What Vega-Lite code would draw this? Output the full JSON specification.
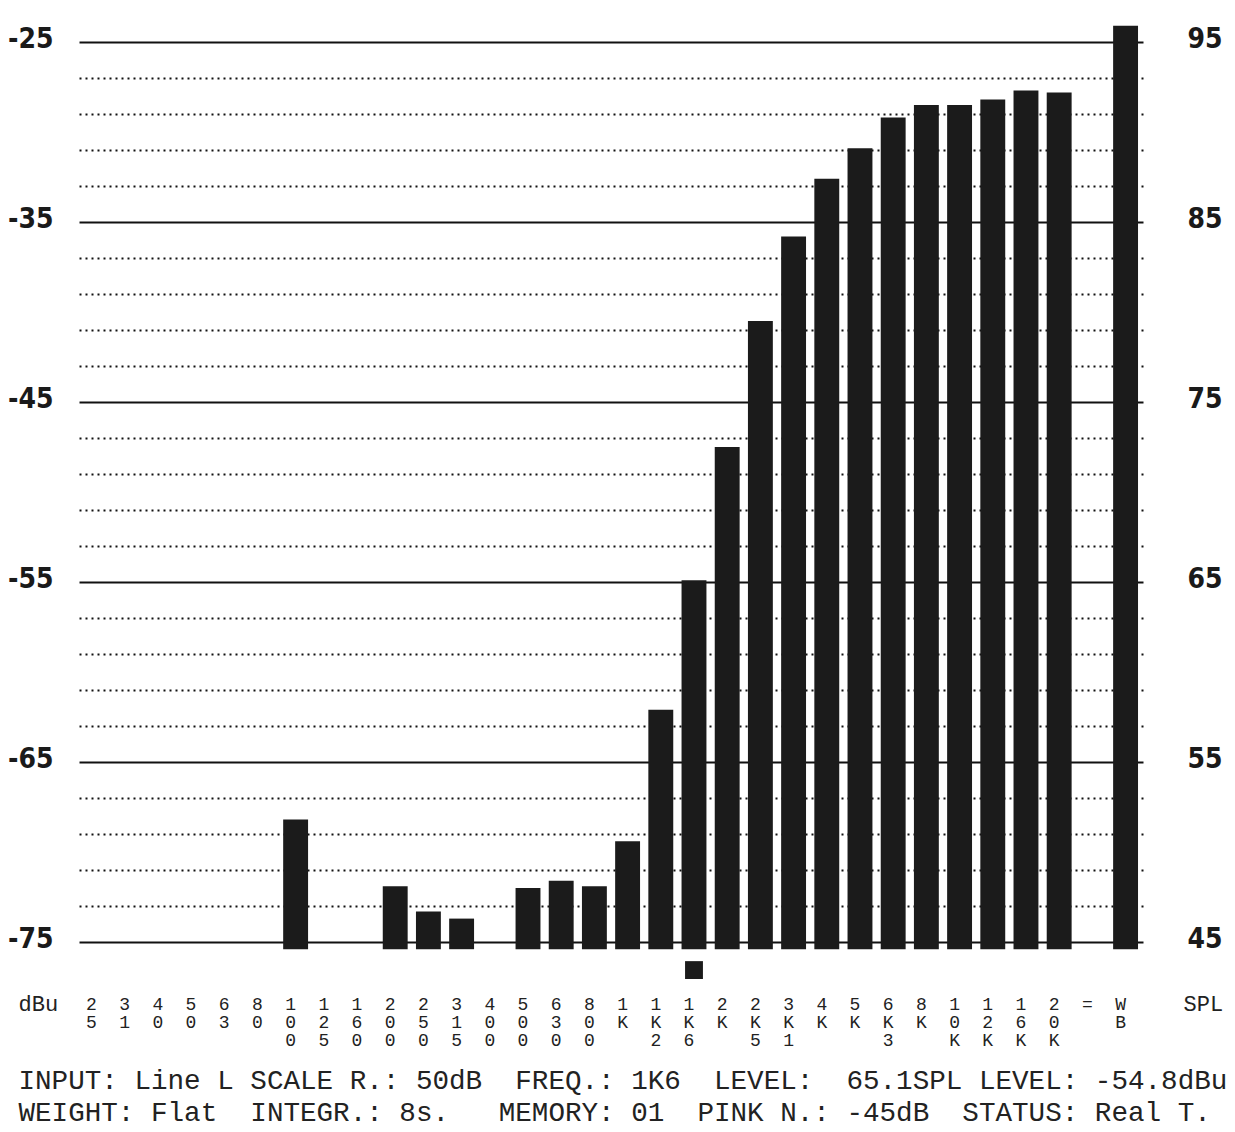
{
  "$schema": "https://vega.github.io/schema/vega-lite/v6.json",
  "width": 1064,
  "height": 925.2,
  "autosize": {"type": "none"},
  "padding": {"left": 79, "top": 24, "right": 92, "bottom": 182.8},
  "background": "white",
  "config": {"view": {"stroke": null}, "font": "Liberation Mono"},
  "data": {
    "values": [
      {"band": "100", "dBu": -68.2},
      {"band": "200", "dBu": -71.9},
      {"band": "250", "dBu": -73.3},
      {"band": "315", "dBu": -73.7},
      {"band": "500", "dBu": -72.0},
      {"band": "630", "dBu": -71.6},
      {"band": "800", "dBu": -71.9},
      {"band": "1K", "dBu": -69.4},
      {"band": "1K2", "dBu": -62.1},
      {"band": "1K6", "dBu": -54.9},
      {"band": "2K", "dBu": -47.5},
      {"band": "2K5", "dBu": -40.5},
      {"band": "3K1", "dBu": -35.8},
      {"band": "4K", "dBu": -32.6},
      {"band": "5K", "dBu": -30.9},
      {"band": "6K3", "dBu": -29.2},
      {"band": "8K", "dBu": -28.5},
      {"band": "10K", "dBu": -28.5},
      {"band": "12K", "dBu": -28.2},
      {"band": "16K", "dBu": -27.7},
      {"band": "20K", "dBu": -27.8},
      {"band": "WB", "dBu": -24.1}
    ]
  },
  "resolve": {"axis": {"y": "independent"}},
  "encoding": {
    "x": {
      "field": "band",
      "type": "nominal",
      "scale": {
        "domain": ["25", "31", "40", "50", "63", "80", "100", "125", "160", "200", "250", "315", "400", "500", "630", "800", "1K", "1K2", "1K6", "2K", "2K5", "3K1", "4K", "5K", "6K3", "8K", "10K", "12K", "16K", "20K", "=", "WB"],
        "paddingInner": 0.25,
        "paddingOuter": 0.15
      },
      "axis": {
        "labelExpr": "split(datum.label, '')",
        "labelAngle": 0,
        "labelFont": "Liberation Mono",
        "labelFontSize": 18,
        "labelLineHeight": 18.4,
        "labelColor": "#222222",
        "labelBaseline": "top",
        "labelPadding": 46,
        "labelOffset": -5,
        "labelOverlap": false,
        "domain": false,
        "ticks": false,
        "tickSize": 0,
        "grid": false,
        "title": [
          "INPUT:\u00a0Line\u00a0L\u00a0SCALE\u00a0R.:\u00a050dB\u00a0\u00a0FREQ.:\u00a01K6\u00a0\u00a0LEVEL:\u00a0\u00a065.1SPL\u00a0LEVEL:\u00a0-54.8dBu",
          "WEIGHT:\u00a0Flat\u00a0\u00a0INTEGR.:\u00a08s.\u00a0\u00a0\u00a0MEMORY:\u00a001\u00a0\u00a0PINK\u00a0N.:\u00a0-45dB\u00a0\u00a0STATUS:\u00a0Real\u00a0T."
        ],
        "titleX": -61,
        "titleY": 138.8,
        "titleAlign": "left",
        "titleAnchor": "start",
        "titleBaseline": "alphabetic",
        "titleFont": "Liberation Mono",
        "titleFontSize": 27.6,
        "titleFontWeight": "normal",
        "titleLineHeight": 32,
        "titleColor": "#222222"
      }
    }
  },
  "layer": [
    {
      "mark": {"type": "bar", "color": "#1b1b1b"},
      "encoding": {
        "y": {
          "field": "dBu",
          "type": "quantitative",
          "scale": {"domain": [-75.4, -24], "zero": false, "nice": false},
          "axis": {
            "values": [-75, -73, -71, -69, -67, -65, -63, -61, -59, -57, -55, -53, -51, -49, -47, -45, -43, -41, -39, -37, -35, -33, -31, -29, -27, -25],
            "labelExpr": "datum.value % 10 === -5 ? datum.value : ''",
            "labelOverlap": false,
            "labelFont": "DejaVu Sans Condensed",
            "labelFontSize": 28,
            "labelFontWeight": "bold",
            "labelColor": "#1a1a1a",
            "labelPadding": 26,
            "labelOffset": -3,
            "labelAlign": "right",
            "domain": false,
            "ticks": false,
            "tickSize": 0,
            "grid": true,
            "gridColor": "#111111",
            "gridOpacity": 1,
            "gridWidth": 2,
            "gridDash": {"condition": {"test": "datum.value % 10 === -5", "value": [10, 0]}, "value": [2, 4]},
            "title": "dBu",
            "titleAngle": 0,
            "titleX": -61,
            "titleY": 986,
            "titleAlign": "left",
            "titleBaseline": "alphabetic",
            "titleFont": "Liberation Mono",
            "titleFontSize": 22,
            "titleFontWeight": "normal",
            "titleColor": "#222222"
          }
        },
        "y2": {"datum": -75.4}
      }
    },
    {
      "data": {"values": [{"band": "1K6"}]},
      "mark": {"type": "square", "size": 320, "filled": true, "color": "#1b1b1b", "opacity": 1},
      "encoding": {
        "y": {
          "datum": -76.56,
          "type": "quantitative",
          "scale": {"domain": [-75.4, -24], "zero": false, "nice": false},
          "axis": {
            "orient": "right",
            "values": [-75, -73, -71, -69, -67, -65, -63, -61, -59, -57, -55, -53, -51, -49, -47, -45, -43, -41, -39, -37, -35, -33, -31, -29, -27, -25],
            "labelExpr": "datum.value % 10 === -5 ? datum.value + 120 : ''",
            "labelOverlap": false,
            "labelFont": "DejaVu Sans Condensed",
            "labelFontSize": 28,
            "labelFontWeight": "bold",
            "labelColor": "#1a1a1a",
            "labelPadding": 44,
            "labelOffset": -3,
            "labelAlign": "left",
            "domain": false,
            "ticks": false,
            "tickSize": 0,
            "grid": false,
            "title": "SPL",
            "titleAngle": 0,
            "titleX": 40,
            "titleY": 986,
            "titleAlign": "left",
            "titleBaseline": "alphabetic",
            "titleFont": "Liberation Mono",
            "titleFontSize": 22,
            "titleFontWeight": "normal",
            "titleColor": "#222222"
          }
        }
      }
    }
  ]
}
